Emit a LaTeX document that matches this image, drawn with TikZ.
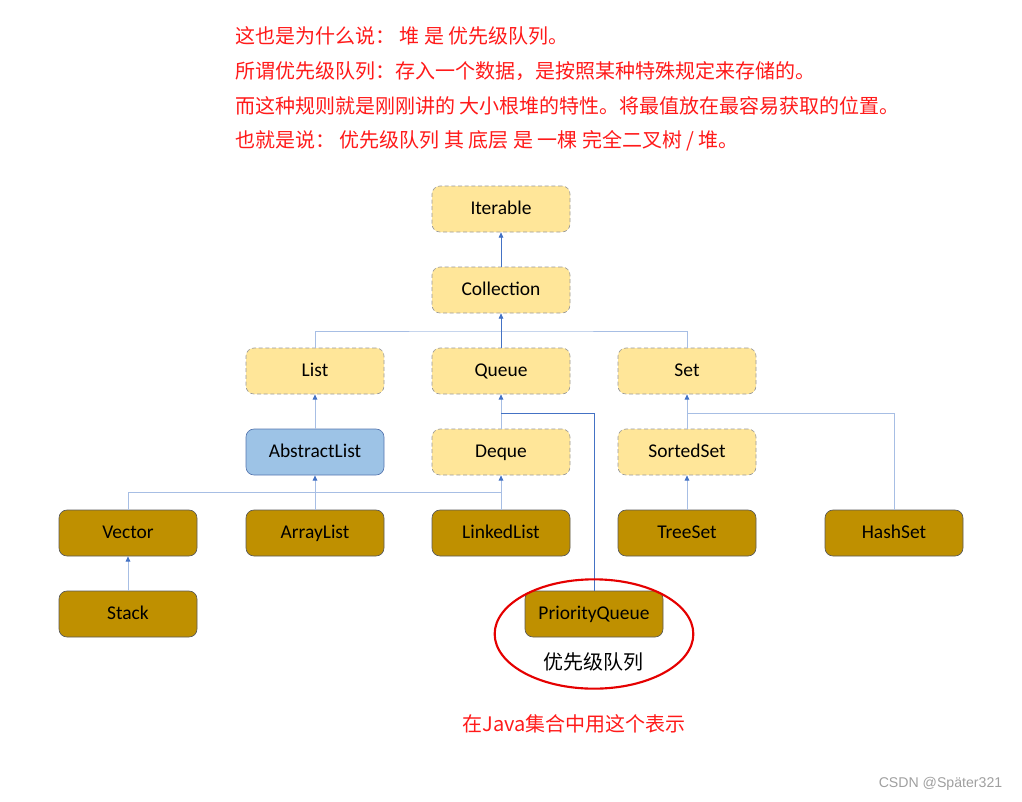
\documentclass[tikz,border=0pt]{standalone}
\usepackage{fontspec}
\setmainfont{Carlito}
\newfontfamily\cjk{Noto Sans CJK SC}
\newfontfamily\wmfont{Liberation Sans}
\usetikzlibrary{arrows.meta,shapes.geometric}
\definecolor{ylw}{HTML}{FFE699}
\definecolor{gold}{HTML}{BF9000}
\definecolor{lblue}{HTML}{9DC3E6}
\definecolor{dblue}{HTML}{4472C4}
\definecolor{lline}{HTML}{A7BEE4}
\definecolor{redtxt}{HTML}{FF1A1A}
\tikzset{
  box/.style={rounded corners=6pt, minimum width=103.5pt, minimum height=34.5pt, font=\fontsize{14.6}{16}\selectfont, inner sep=0pt, text height=2.1ex, text depth=0.4ex},
  ifbox/.style={box, fill=ylw, draw=gray!80, densely dashed, line width=0.5pt},
  absbox/.style={box, fill=lblue, draw=dblue!70!gray, line width=0.5pt},
  clsbox/.style={box, fill=gold, draw=gray!70!black, line width=0.5pt},
  conn/.style={draw=lline, line width=0.75pt},
  dconn/.style={draw=dblue, line width=0.6pt},
  arr/.style={-{Triangle[length=4pt,width=3.5pt,color=dblue]}},
  redline/.style={anchor=west, text=redtxt, font=\cjk\fontsize{15}{17}\selectfont, inner sep=0pt}
}
\begin{document}
\begin{tikzpicture}[x=0.75pt,y=-0.75pt]
\useasboundingbox (0,0) rectangle (1022,801);
% red text lines
\node[redline] (t1) at (235,36) {这也是为什么说： 堆 是 优先级队列。};
\node[redline] (t2) at (235,71) {所谓优先级队列：存入一个数据，是按照某种特殊规定来存储的。};
\node[redline] (t3) at (235,106) {而这种规则就是刚刚讲的 大小根堆的特性。将最值放在最容易获取的位置。};
\node[redline] (t4) at (235,141) {也就是说： 优先级队列 其 底层 是 一棵 完全二叉树 / 堆。};
% boxes
\node[ifbox] (Iterable) at (501,209) {Iterable};
\node[ifbox] (Collection) at (501,290) {Collection};
\node[ifbox] (List) at (315,371) {List};
\node[ifbox] (Queue) at (501,371) {Queue};
\node[ifbox] (Set) at (687,371) {Set};
\node[absbox] (AbstractList) at (315,452) {AbstractList};
\node[ifbox] (Deque) at (501,452) {Deque};
\node[ifbox] (SortedSet) at (687,452) {SortedSet};
\node[clsbox] (Vector) at (128,533) {Vector};
\node[clsbox] (ArrayList) at (315,533) {ArrayList};
\node[clsbox] (LinkedList) at (501,533) {LinkedList};
\node[clsbox] (TreeSet) at (687,533) {TreeSet};
\node[clsbox] (HashSet) at (894,533) {HashSet};
\node[clsbox] (Stack) at (128,614) {Stack};
\node[clsbox] (PQ) at (594,614) {PriorityQueue};
% junction coordinates
\coordinate (cj) at (501,331);
\coordinate (qj) at (501,413);
\coordinate (sj) at (687,413);
\coordinate (lj) at (501,492);
% connectors
\draw[dconn,arr] (Collection.north) -- (Iterable.south);
\draw[conn] (List.north) |- (cj) -| (Set.north);
\draw[dconn,arr] (Queue.north) -- (Collection.south);
\draw[conn,arr] (AbstractList.north) -- (List.south);
\draw[conn,arr] (Deque.north) -- (Queue.south);
\draw[dconn] (PQ.north) |- (qj);
\draw[conn,arr] (SortedSet.north) -- (Set.south);
\draw[conn] (HashSet.north) |- (sj);
\draw[conn] (Vector.north) |- (lj);
\draw[conn,arr] (ArrayList.north) -- (AbstractList.south);
\draw[conn,arr] (LinkedList.north) -- (Deque.south);
\draw[conn,arr] (TreeSet.north) -- (SortedSet.south);
\draw[conn,arr] (Stack.north) -- (Vector.south);
% highlight
\node[ellipse, draw=red!90!black, line width=1.6pt, minimum width=149pt, minimum height=82pt] (ring) at (594,634) {};
\node[font=\cjk\fontsize{15}{17}\selectfont] (pqlabel) at (593,662) {优先级队列};
\node[text=redtxt, font=\cjk\fontsize{15}{17}\selectfont] (note) at (574,724) {在Java集合中用这个表示};
\node[text=gray!75, font=\wmfont\fontsize{10.6}{12}\selectfont, anchor=east] (wm) at (1007,784) {CSDN @Später321};
\end{tikzpicture}
\end{document}
